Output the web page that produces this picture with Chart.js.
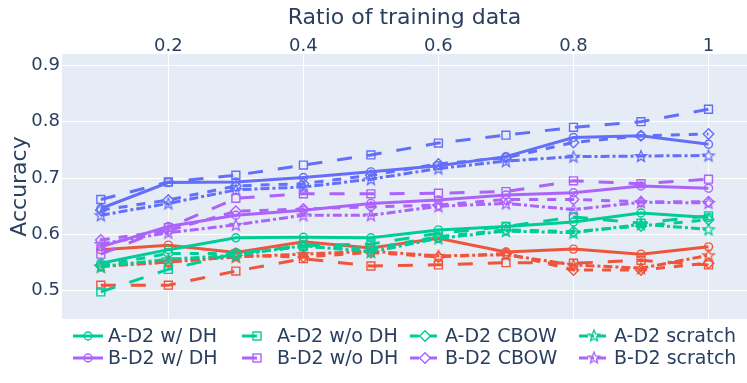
<!DOCTYPE html>
<html>
<head>
<meta charset="utf-8">
<script src="https://cdn.jsdelivr.net/npm/chart.js@4/dist/chart.umd.min.js"></script>
<style>
  body { margin: 0; background: #fff; }
  #wrap { width: 747px; height: 383px; }
</style>
</head>
<body>
<div id="wrap"><canvas id="chart" width="747" height="383"></canvas></div>
<script>
// ratios on the x axis
const ratios = [0.1, 0.2, 0.3, 0.4, 0.5, 0.6, 0.7, 0.8, 0.9, 1];
const xTicks = [0.2, 0.4, 0.6, 0.8, 1];
const yTicks = [0.5, 0.6, 0.7, 0.8, 0.9];
const methods = ['w/ DH', 'w/o DH', 'CBOW', 'scratch'];

// A-D2 (green)
const aD2WithDH   = [0.549, 0.573, 0.594, 0.595, 0.594, 0.608, 0.614, 0.622, 0.638, 0.630];
const aD2WithoutDH = [0.498, 0.538, 0.566, 0.580, 0.583, 0.602, 0.614, 0.631, 0.620, 0.633];
const aD2Cbow     = [0.545, 0.566, 0.566, 0.578, 0.575, 0.596, 0.608, 0.605, 0.615, 0.626];
const aD2Scratch  = [0.543, 0.556, 0.563, 0.580, 0.569, 0.593, 0.606, 0.603, 0.618, 0.609];

// B-D2 (purple)
const bD2WithDH   = [0.578, 0.614, 0.634, 0.643, 0.655, 0.661, 0.670, 0.674, 0.686, 0.682];
const bD2WithoutDH = [0.565, 0.612, 0.664, 0.672, 0.672, 0.673, 0.676, 0.695, 0.690, 0.698];
const bD2Cbow     = [0.590, 0.607, 0.641, 0.645, 0.649, 0.652, 0.662, 0.662, 0.658, 0.658];
const bD2Scratch  = [0.583, 0.603, 0.617, 0.634, 0.634, 0.650, 0.655, 0.644, 0.657, 0.656];

// A-D1 (red)
const aD1WithDH   = [0.573, 0.581, 0.568, 0.587, 0.576, 0.593, 0.569, 0.574, 0.565, 0.578];
const aD1WithoutDH = [0.510, 0.510, 0.535, 0.557, 0.544, 0.546, 0.550, 0.549, 0.554, 0.546];
const aD1Cbow     = [0.545, 0.551, 0.563, 0.560, 0.568, 0.560, 0.566, 0.537, 0.537, 0.549];
const aD1Scratch  = [0.543, 0.551, 0.560, 0.565, 0.570, 0.562, 0.564, 0.546, 0.540, 0.563];

// B-D1 (blue)
const bD1WithDH   = [0.646, 0.692, 0.693, 0.701, 0.711, 0.722, 0.738, 0.772, 0.775, 0.760];
const bD1WithoutDH = [0.662, 0.693, 0.705, 0.723, 0.741, 0.762, 0.776, 0.790, 0.800, 0.822];
const bD1Cbow     = [0.643, 0.661, 0.686, 0.690, 0.705, 0.725, 0.736, 0.763, 0.775, 0.778];
const bD1Scratch  = [0.634, 0.655, 0.679, 0.684, 0.698, 0.717, 0.730, 0.738, 0.739, 0.740];

const groups = [
  { name: 'A-D2', color: '#00cc96', series: [aD2WithDH, aD2WithoutDH, aD2Cbow, aD2Scratch] },
  { name: 'B-D2', color: '#ab63fa', series: [bD2WithDH, bD2WithoutDH, bD2Cbow, bD2Scratch] },
  { name: 'A-D1', color: '#ef553b', series: [aD1WithDH, aD1WithoutDH, aD1Cbow, aD1Scratch] },
  { name: 'B-D1', color: '#636efa', series: [bD1WithDH, bD1WithoutDH, bD1Cbow, bD1Scratch] }
];

const textColor = '#2a3f5f';
const fontFamily = '"DejaVu Sans", Verdana, sans-serif';
const dashes = [[], [15, 15], [9, 9], [9, 3, 3, 3]];

function starImage(color) {
  const c = document.createElement('canvas');
  c.width = 16; c.height = 16;
  const g = c.getContext('2d');
  g.strokeStyle = color;
  g.lineWidth = 1.3;
  g.beginPath();
  for (let i = 0; i < 10; i++) {
    const r = i % 2 === 0 ? 6 : 2.6;
    const a = -Math.PI / 2 + i * Math.PI / 5;
    const px = 8 + r * Math.cos(a), py = 8.5 + r * Math.sin(a);
    if (i === 0) g.moveTo(px, py); else g.lineTo(px, py);
  }
  g.closePath();
  g.stroke();
  return c;
}

function markerStyle(m, color) {
  if (m === 0) return { style: 'circle', radius: 4 };
  if (m === 1) return { style: 'rect', radius: 5.6 };
  if (m === 2) return { style: 'rectRot', radius: 5.3 };
  return { style: starImage(color), radius: 6 };
}

const datasets = [];
groups.forEach(grp => {
  grp.series.forEach((vals, m) => {
    const mk = markerStyle(m, grp.color);
    datasets.push({
      label: grp.name + ' ' + methods[m],
      data: ratios.map((x, i) => ({ x: x, y: vals[i] })),
      borderColor: grp.color,
      backgroundColor: grp.color,
      borderWidth: 3,
      borderDash: dashes[m],
      pointStyle: mk.style,
      pointRadius: mk.radius,
      pointBorderWidth: 1.4,
      pointBorderColor: grp.color,
      pointBackgroundColor: 'rgba(0,0,0,0)',
      tension: 0,
      fill: false
    });
  });
});

const plotBg = {
  id: 'plotBg',
  beforeDraw(chart) {
    const { ctx, chartArea: a } = chart;
    ctx.save();
    ctx.fillStyle = '#e5ecf6';
    ctx.fillRect(a.left, a.top, a.right - a.left, a.bottom - a.top);
    ctx.restore();
  }
};

// legend in four fixed columns, only the first two groups shown
const gridLegend = {
  id: 'gridLegend',
  afterDraw(chart) {
    const ctx = chart.ctx;
    const colX = [73, 242, 410, 579];
    const rowY = [336, 358];
    ctx.save();
    for (let i = 0; i < 8; i++) {
      const ds = chart.data.datasets[i];
      const x = colX[i % 4], y = rowY[Math.floor(i / 4)];
      const m = i % 4;
      ctx.strokeStyle = ds.borderColor;
      ctx.lineWidth = 3;
      ctx.setLineDash(ds.borderDash);
      ctx.beginPath();
      ctx.moveTo(x, y); ctx.lineTo(x + 30, y);
      ctx.stroke();
      ctx.setLineDash([]);
      ctx.lineWidth = 1.4;
      const cx = x + 15;
      ctx.fillStyle = '#fff';
      ctx.beginPath();
      if (m === 0) {
        ctx.arc(cx, y, 4, 0, Math.PI * 2);
        ctx.stroke();
      } else if (m === 1) {
        ctx.strokeRect(cx - 4, y - 4, 8, 8);
      } else if (m === 2) {
        ctx.moveTo(cx, y - 5.3); ctx.lineTo(cx + 5.3, y); ctx.lineTo(cx, y + 5.3); ctx.lineTo(cx - 5.3, y); ctx.closePath();
        ctx.fill(); ctx.stroke();
      } else {
        ctx.drawImage(ds.pointStyle, cx - 8, y - 8.5);
      }
      ctx.fillStyle = textColor;
      ctx.font = '19px ' + fontFamily;
      ctx.textAlign = 'left';
      ctx.textBaseline = 'middle';
      ctx.fillText(ds.label, x + 35, y + 1);
    }
    ctx.restore();
  }
};

new Chart(document.getElementById('chart'), {
  type: 'line',
  data: { datasets: datasets },
  plugins: [plotBg, gridLegend],
  options: {
    responsive: false,
    animation: false,
    events: [],
    layout: { autoPadding: false, padding: { left: 0, right: 0, top: 0, bottom: 64 } },
    plugins: { legend: { display: false }, tooltip: { enabled: false } },
    scales: {
      x: {
        type: 'linear',
        position: 'top',
        min: 0.0425,
        max: 1.057,
        afterBuildTicks: s => { s.ticks = xTicks.map(v => ({ value: v })); },
        afterFit: s => { s.height = 54; s.paddingLeft = 0; s.paddingRight = 0; },
        ticks: {
          color: textColor,
          font: { family: fontFamily, size: 18 },
          padding: -3,
          maxRotation: 0,
          callback: v => String(+v.toFixed(1))
        },
        grid: { color: '#ffffff', lineWidth: 1, drawTicks: false },
        border: { display: false },
        title: {
          display: true,
          text: 'Ratio of training data',
          color: textColor,
          font: { family: fontFamily, size: 22 },
          padding: { top: 5, bottom: 0 }
        }
      },
      y: {
        type: 'linear',
        min: 0.45,
        max: 0.92,
        afterBuildTicks: s => { s.ticks = yTicks.map(v => ({ value: v })); },
        afterFit: s => { s.width = 62; },
        ticks: {
          color: textColor,
          font: { family: fontFamily, size: 18 },
          padding: 2,
          callback: v => String(+v.toFixed(1))
        },
        grid: { color: '#ffffff', lineWidth: 1, drawTicks: false },
        border: { display: false },
        title: {
          display: true,
          text: 'Accuracy',
          color: textColor,
          font: { family: fontFamily, size: 22 },
          padding: { top: 7, bottom: 0 }
        }
      }
    }
  }
});
</script>
</body>
</html>
